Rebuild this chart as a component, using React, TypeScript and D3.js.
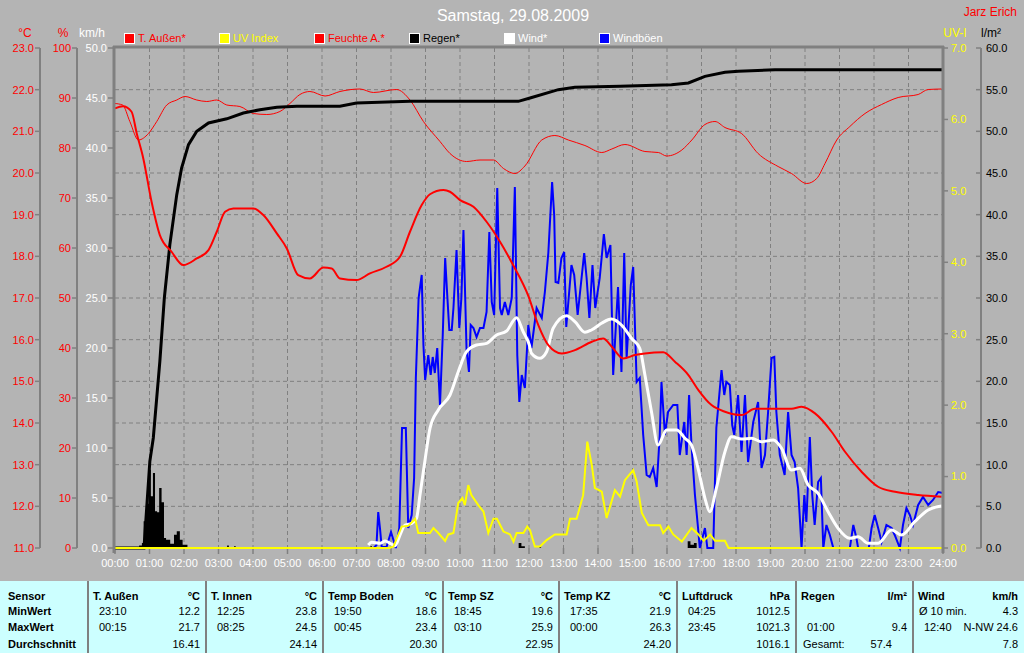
import React from "react";
import * as d3 from "d3";

type P = [number, number];

// ---------- tick labels / categories ----------
const timeLabels = ["00:00","01:00","02:00","03:00","04:00","05:00","06:00","07:00","08:00","09:00","10:00","11:00","12:00","13:00","14:00","15:00","16:00","17:00","18:00","19:00","20:00","21:00","22:00","23:00","24:00"];
const tempTicks = [23, 22, 21, 20, 19, 18, 17, 16, 15, 14, 13, 12, 11];
const humTicks = [100, 90, 80, 70, 60, 50, 40, 30, 20, 10, 0];
const windTicks = [50, 45, 40, 35, 30, 25, 20, 15, 10, 5, 0];
const uvTicks = [7, 6, 5, 4, 3, 2, 1, 0];
const rainTicks = [60, 55, 50, 45, 40, 35, 30, 25, 20, 15, 10, 5, 0];

const legendLabels = ["T. Außen*", "UV Index", "Feuchte A.*", "Regen*", "Wind*", "Windböen"];
const legendFills = ["#ff0000", "#ffff00", "#ff0000", "#000000", "#ffffff", "#0000ff"];
const legendTextColors = ["#ff0000", "#ffff00", "#ff0000", "#000000", "#ffffff", "#ffffff"];

// ---------- series (hour, value) ----------
const tempAussen: P[] = [[0,21.55],[0.23,21.6],[0.48,21.47],[0.63,20.95],[0.82,20.35],[1.06,19.31],[1.3,18.51],[1.64,18.11],[1.98,17.79],[2.37,17.95],[2.71,18.15],[2.95,18.59],[3.19,19.07],[3.43,19.15],[4.01,19.15],[4.3,18.99],[4.69,18.55],[4.98,18.19],[5.31,17.55],[5.65,17.47],[6.04,17.73],[6.28,17.71],[6.52,17.47],[7.0,17.43],[7.39,17.59],[7.87,17.75],[8.26,17.99],[8.55,18.59],[8.89,19.23],[9.13,19.49],[9.52,19.59],[9.71,19.55],[10.0,19.35],[10.39,19.19],[10.77,18.83],[11.16,18.35],[11.54,17.79],[11.98,17.05],[12.27,16.35],[12.56,15.87],[12.95,15.67],[13.33,15.75],[13.82,15.95],[14.15,16.03],[14.4,15.83],[14.73,15.55],[15.07,15.63],[15.36,15.67],[15.89,15.7],[16.23,15.47],[16.62,15.15],[16.91,14.79],[17.29,14.43],[17.68,14.27],[18.16,14.19],[18.55,14.34],[19.03,14.34],[19.61,14.34],[19.9,14.39],[20.29,14.23],[20.77,13.79],[21.16,13.31],[21.64,12.83],[22.12,12.47],[22.61,12.35],[23.28,12.27],[23.96,12.23]];

const feuchte: P[] = [[0,88.9],[0.22,88.6],[0.43,85.3],[0.68,81.6],[0.97,82.9],[1.21,85.3],[1.5,88.6],[1.79,89.6],[2.03,90.3],[2.37,89.6],[2.66,89.3],[2.95,89.6],[3.24,88.6],[3.62,88.3],[4.01,86.9],[4.4,86.7],[4.78,87.3],[5.07,88.9],[5.36,90.7],[5.65,91.3],[6.09,90.4],[6.52,91.3],[7.1,91.8],[7.49,91.1],[8.16,91.7],[8.55,89.6],[8.94,85.3],[9.42,81.3],[9.71,78.9],[10.19,77.3],[10.58,77.6],[10.97,77.6],[11.26,75.9],[11.59,74.9],[11.88,76.4],[12.37,81.6],[12.75,82.5],[13.14,81.6],[13.62,80.5],[14.11,79.1],[14.4,79.8],[14.78,80.7],[15.36,79.3],[15.75,79.1],[15.99,78.4],[16.43,79.6],[16.72,81.6],[17.1,84.7],[17.39,85.3],[17.68,84.1],[18.16,82.9],[18.64,78.9],[19.22,76.3],[19.61,74.9],[20.05,72.9],[20.34,73.9],[20.58,76.9],[20.92,81.6],[21.3,84.3],[21.74,86.9],[22.22,88.7],[22.7,90.1],[23.28,90.7],[23.57,91.7],[23.96,91.8]];

const regenSumme: P[] = [[0,0],[0.84,0],[1.01,10.4],[1.11,13.2],[1.3,22.4],[1.43,30.0],[1.59,36.4],[1.79,42.4],[1.93,45.6],[2.13,48.4],[2.37,50.0],[2.71,51.0],[3.24,51.5],[3.72,52.2],[4.2,52.6],[4.69,52.9],[5.27,53.0],[6.52,53.0],[7.0,53.4],[8.55,53.6],[11.69,53.6],[12.03,54.0],[12.85,55.0],[13.33,55.3],[14.64,55.4],[16.13,55.6],[16.62,55.8],[17.1,56.6],[17.68,57.1],[18.07,57.2],[19.13,57.4],[24,57.4]];

const regenMenge: P[] = [[0.7,0.3],[0.78,0.6],[0.83,3.2],[0.9,5.3],[0.97,9.4],[1.04,6.2],[1.1,9.0],[1.16,4.4],[1.22,4.3],[1.28,7.2],[1.35,5.5],[1.42,1.2],[1.48,1.0],[1.6,0.5],[1.71,1.6],[1.79,2.0],[1.88,1.0],[1.96,0.4],[2.1,0],[3.25,0.3],[3.3,0],[3.45,0.2],[3.5,0],[7.4,0.2],[7.45,0],[11.7,0.6],[11.78,0.2],[11.88,0],[12.3,0.2],[12.35,0],[16.6,0.8],[16.68,0.4],[16.78,0.6],[16.86,0]];

const uvIndex: P[] = [[0,0],[7.95,0],[8.07,0.02],[8.31,0.3],[8.5,0.31],[8.7,0.41],[8.79,0.21],[9.13,0.21],[9.23,0.28],[9.37,0.21],[9.57,0.1],[9.66,0.19],[9.81,0.21],[9.95,0.63],[10.07,0.7],[10.14,0.6],[10.24,0.88],[10.33,0.74],[10.53,0.6],[10.68,0.51],[10.82,0.21],[10.97,0.41],[11.07,0.41],[11.26,0.23],[11.45,0.19],[11.55,0.09],[11.64,0.21],[11.84,0.21],[11.95,0.3],[12.03,0.25],[12.17,0.02],[12.32,0.02],[12.51,0.11],[12.75,0.19],[13.09,0.19],[13.19,0.41],[13.38,0.41],[13.57,0.74],[13.69,1.49],[13.82,1.16],[13.91,0.84],[14.11,0.79],[14.25,0.42],[14.49,0.81],[14.64,0.72],[14.78,0.95],[15.02,1.09],[15.12,0.93],[15.27,0.49],[15.46,0.32],[15.8,0.32],[15.89,0.21],[16.04,0.3],[16.18,0.19],[16.43,0.09],[16.71,0.28],[16.91,0.19],[17.06,0.1],[17.25,0.19],[17.39,0.1],[17.68,0.1],[17.78,0],[24,0]];

const wind: P[] = [[7.34,0.3],[7.44,0.57],[7.68,0.47],[7.83,0.7],[7.97,0.47],[8.12,0.23],[8.26,1.3],[8.41,2.3],[8.6,2.47],[8.74,2.97],[8.84,5.3],[8.98,8.63],[9.13,11.97],[9.37,13.8],[9.71,15.3],[9.95,17.63],[10.19,19.63],[10.48,20.3],[10.77,20.47],[11.06,21.3],[11.35,21.7],[11.64,23.03],[11.83,21.63],[12.01,20.3],[12.07,19.47],[12.31,18.97],[12.51,19.63],[12.7,21.97],[13.09,23.23],[13.33,22.63],[13.62,21.57],[13.81,21.8],[14.1,22.47],[14.39,22.9],[14.68,22.3],[14.97,20.97],[15.21,19.97],[15.36,17.3],[15.55,13.63],[15.74,10.3],[15.99,11.8],[16.28,11.8],[16.52,10.97],[16.71,10.3],[16.9,7.97],[17.1,4.97],[17.24,3.63],[17.43,5.97],[17.68,9.63],[17.87,11.13],[18.16,10.9],[18.45,10.97],[18.74,10.63],[19.08,10.8],[19.32,9.97],[19.61,7.8],[19.85,7.97],[20.09,6.3],[20.38,5.47],[20.67,3.63],[20.96,1.97],[21.3,0.97],[21.54,1.13],[21.83,0.47],[22.12,0.47],[22.51,1.8],[22.8,1.3],[23.18,2.63],[23.57,3.8],[23.96,4.2]];

const windBoeen: P[] = [[7.5,0],[7.58,0.3],[7.63,3.6],[7.68,2],[7.73,0.1],[7.87,0.1],[8.0,1.6],[8.07,0.8],[8.14,0],[8.24,2],[8.32,12],[8.43,12],[8.5,2],[8.6,3.3],[8.67,7],[8.72,17],[8.8,25],[8.89,27.3],[8.94,20.3],[8.99,16.8],[9.08,19.3],[9.15,17.3],[9.21,19.1],[9.27,17.5],[9.34,20],[9.42,14.3],[9.5,21.3],[9.57,29],[9.63,25.3],[9.69,21.8],[9.76,21.8],[9.81,24],[9.9,29.8],[9.98,22],[10.04,25],[10.1,31.8],[10.19,19.8],[10.26,17.6],[10.31,22.3],[10.39,22],[10.48,21.1],[10.58,22],[10.68,22],[10.77,23.6],[10.85,31.6],[10.92,24.6],[10.99,23.3],[11.08,36],[11.16,24],[11.21,23.3],[11.3,24.6],[11.4,23.3],[11.5,25],[11.59,36.1],[11.66,19.3],[11.72,14.6],[11.79,17.3],[11.88,16],[11.98,22.3],[12.07,20],[12.22,24],[12.37,23],[12.46,25.6],[12.56,29.5],[12.67,36.6],[12.73,33.3],[12.77,26.6],[12.85,26.5],[12.94,29],[13.02,29.6],[13.08,22.1],[13.23,28.3],[13.31,27.3],[13.41,23.3],[13.6,29.5],[13.67,27],[13.75,23],[13.84,28.3],[13.92,24],[14.05,27],[14.17,31.4],[14.25,29],[14.36,30.3],[14.44,17.3],[14.58,26.1],[14.68,17.6],[14.76,29.5],[14.83,19],[14.95,26.3],[15.02,28.1],[15.12,16.6],[15.21,17],[15.31,11.3],[15.41,7.3],[15.5,7.1],[15.6,8],[15.7,6.1],[15.79,11.3],[15.84,16.6],[15.94,11.3],[16.03,13.6],[16.18,14.3],[16.3,14.3],[16.37,9.3],[16.5,12.6],[16.57,9.3],[16.64,15.3],[16.71,10.3],[16.81,5.3],[16.9,2],[16.95,0],[17.1,2],[17.17,0],[17.34,0],[17.43,12],[17.58,17.8],[17.66,15.3],[17.72,16.6],[17.82,16.3],[17.89,12.3],[17.95,11.3],[18.06,15.3],[18.16,9.6],[18.26,15.3],[18.35,8.6],[18.5,12.6],[18.64,14.6],[18.74,8],[18.84,9.3],[18.93,13.6],[19.03,19],[19.11,19.1],[19.17,13.6],[19.27,9.3],[19.41,7.3],[19.51,13.6],[19.61,9.3],[19.7,8.6],[19.8,6],[19.9,0],[19.98,5.3],[20.04,2.6],[20.14,11.1],[20.21,5.3],[20.28,2.3],[20.38,6.6],[20.46,7],[20.53,0],[20.62,2.3],[20.72,1.3],[20.82,0],[21.3,0],[21.4,2.3],[21.49,1],[21.54,0],[21.85,0],[21.93,2],[22.02,3.3],[22.12,2],[22.22,0.6],[22.36,2.3],[22.51,2],[22.6,1.3],[22.75,0],[22.84,2.3],[22.94,4],[23.04,3.3],[23.13,2.3],[23.28,4.3],[23.42,5.1],[23.57,4.3],[23.71,4.8],[23.86,5.6],[24,5.5]];

// ---------- table ----------
const rowLabels = ["Sensor", "MinWert", "MaxWert", "Durchschnitt"];
const sensorNames = ["T. Außen", "T. Innen", "Temp Boden", "Temp SZ", "Temp KZ", "Luftdruck", "Regen", "Wind"];
const sensorUnits = ["°C", "°C", "°C", "°C", "°C", "hPa", "l/m²", "km/h"];
const minTimes = ["23:10", "12:25", "19:50", "18:45", "17:35", "04:25", "", "Ø 10 min."];
const minValues = ["12.2", "23.8", "18.6", "19.6", "21.9", "1012.5", "", "4.3"];
const maxTimes = ["00:15", "08:25", "00:45", "03:10", "00:00", "23:45", "01:00", "12:40"];
const maxValues = ["21.7", "24.5", "23.4", "25.9", "26.3", "1021.3", "9.4", "N-NW 24.6"];
const avgLabels = ["", "", "", "", "", "", "Gesamt:", ""];
const avgValues = ["16.41", "24.14", "20.30", "22.95", "24.20", "1016.1", "57.4", "7.8"];
const colEdges = [88, 206, 323, 443, 559, 677, 796, 913, 1024];

const FONT = "'Liberation Sans', Arial, Helvetica, sans-serif";
const BG = "#b4b4b4";
const AX = "#808080";
const W = 1024, H = 653;
const L = 115, R = 943, T = 48, B = 548;

export default function App() {
  const x = d3.scaleLinear().domain([0, 24]).range([L, R]);
  const yT = d3.scaleLinear().domain([11, 23]).range([B, T]);
  const yHum = d3.scaleLinear().domain([0, 100]).range([B, T]);
  const yW = d3.scaleLinear().domain([0, 50]).range([B, T]);
  const yUV = d3.scaleLinear().domain([0, 7]).range([B, T]);
  const yR = d3.scaleLinear().domain([0, 60]).range([B, T]);

  const mk = (ys: d3.ScaleLinear<number, number>, curve: d3.CurveFactory) =>
    d3.line<P>().x((d) => x(d[0])).y((d) => ys(d[1])).curve(curve);

  const tempPath = mk(yT, d3.curveMonotoneX)(tempAussen) || "";
  const humPath = mk(yHum, d3.curveMonotoneX)(feuchte) || "";
  const rainPath = mk(yR, d3.curveLinear)(regenSumme) || "";
  const uvPath = mk(yUV, d3.curveLinear)(uvIndex) || "";
  const windPath = mk(yW, d3.curveMonotoneX)(wind) || "";
  const gustPath = mk(yW, d3.curveLinear)(windBoeen) || "";
  const rainBars =
    d3.area<P>().x((d) => x(d[0])).y0(B).y1((d) => yR(d[1])).curve(d3.curveStepAfter)(regenMenge) || "";

  const hours = d3.range(0, 25);
  const legendX = d3.scaleLinear().domain([0, 1]).range([124, 219]);

  const fs = 11;

  return (
    <svg
      width={W}
      height={H}
      style={{ position: "absolute", left: 0, top: 0, display: "block" }}
      fontFamily={FONT}
    >
      <rect x={0} y={0} width={W} height={H} fill={BG} />

      {/* title */}
      <text x={513} y={21} fontSize={16} fill="#ffffff" textAnchor="middle">Samstag, 29.08.2009</text>
      <text x={1017} y={16} fontSize={12} fill="#ff0000" textAnchor="end">Jarz Erich</text>

      {/* unit labels */}
      <text x={25} y={37} fontSize={12} fill="#ff0000" textAnchor="middle">°C</text>
      <text x={63} y={37} fontSize={12} fill="#ff0000" textAnchor="middle">%</text>
      <text x={92} y={37} fontSize={12} fill="#ffffff" textAnchor="middle">km/h</text>
      <text x={955} y={37} fontSize={12} fill="#ffff00" textAnchor="middle">UV-I</text>
      <text x={991} y={37} fontSize={12} fill="#000000" textAnchor="middle">l/m²</text>

      {/* legend */}
      {legendLabels.map((lab, i) => (
        <g key={lab}>
          <rect x={legendX(i) + 0.5} y={33.5} width={10} height={10} fill={legendFills[i]} stroke="#ffffff" strokeWidth={1} />
          <text x={legendX(i) + 14} y={42} fontSize={fs} fill={legendTextColors[i]}>{lab}</text>
        </g>
      ))}

      {/* grid */}
      {tempTicks.slice(1, -1).map((t) => (
        <line key={"hg" + t} x1={L} x2={R} y1={yT(t)} y2={yT(t)} stroke={AX} strokeWidth={1} strokeDasharray="4,3" />
      ))}
      {hours.slice(1, -1).map((h) => (
        <line key={"vg" + h} x1={x(h)} x2={x(h)} y1={T} y2={B} stroke={AX} strokeWidth={1} strokeDasharray="4,3" />
      ))}

      {/* left axes */}
      <line x1={40} x2={40} y1={T} y2={B} stroke={AX} strokeWidth={2} />
      {tempTicks.map((t) => (
        <g key={"tt" + t}>
          <line x1={35} x2={40} y1={yT(t)} y2={yT(t)} stroke={AX} strokeWidth={1.5} />
          <text x={34} y={yT(t)} dy="0.35em" fontSize={fs} fill="#ff0000" textAnchor="end">{t.toFixed(1)}</text>
        </g>
      ))}
      <line x1={77} x2={77} y1={T} y2={B} stroke={AX} strokeWidth={2} />
      {humTicks.map((t) => (
        <g key={"ht" + t}>
          <line x1={72} x2={77} y1={yHum(t)} y2={yHum(t)} stroke={AX} strokeWidth={1.5} />
          <text x={71} y={yHum(t)} dy="0.35em" fontSize={fs} fill="#ff0000" textAnchor="end">{t}</text>
        </g>
      ))}
      {windTicks.map((t) => (
        <g key={"wt" + t}>
          <line x1={108} x2={114} y1={yW(t)} y2={yW(t)} stroke={AX} strokeWidth={1.5} />
          <text x={107} y={yW(t)} dy="0.35em" fontSize={fs} fill="#ffffff" textAnchor="end">{t.toFixed(1)}</text>
        </g>
      ))}

      {/* right axes */}
      {uvTicks.map((t) => (
        <g key={"ut" + t}>
          <line x1={943} x2={948} y1={yUV(t)} y2={yUV(t)} stroke={AX} strokeWidth={1.5} />
          <text x={951} y={yUV(t)} dy="0.35em" fontSize={fs} fill="#ffff00">{t.toFixed(1)}</text>
        </g>
      ))}
      <line x1={981} x2={981} y1={T} y2={B} stroke={AX} strokeWidth={2} />
      {rainTicks.map((t) => (
        <g key={"rt" + t}>
          <line x1={976} x2={981} y1={yR(t)} y2={yR(t)} stroke={AX} strokeWidth={1.5} />
          <text x={986} y={yR(t)} dy="0.35em" fontSize={fs} fill="#000000">{t.toFixed(1)}</text>
        </g>
      ))}

      {/* x axis */}
      {hours.map((h) => (
        <g key={"xt" + h}>
          <line x1={x(h)} x2={x(h)} y1={B} y2={B + 6} stroke={AX} strokeWidth={1.5} />
          <text x={x(h)} y={567} fontSize={fs} fill="#ffffff" textAnchor="middle">{timeLabels[h]}</text>
        </g>
      ))}

      {/* data */}
      <path d={rainBars} fill="#000000" stroke="none" />
      <path d={humPath} fill="none" stroke="#ff0000" strokeWidth={1} />
      <path d={rainPath} fill="none" stroke="#000000" strokeWidth={3} />
      <path d={gustPath} fill="none" stroke="#0000ff" strokeWidth={2} />
      <path d={windPath} fill="none" stroke="#ffffff" strokeWidth={3} />
      <path d={uvPath} fill="none" stroke="#ffff00" strokeWidth={2} />
      <path d={tempPath} fill="none" stroke="#ff0000" strokeWidth={2} />

      {/* plot frame */}
      <line x1={L - 1} x2={L - 1} y1={T - 2} y2={B + 5} stroke={AX} strokeWidth={3} />
      <line x1={R} x2={R} y1={T - 2} y2={B + 5} stroke={AX} strokeWidth={3} />
      <line x1={L - 2} x2={R + 1} y1={T - 1} y2={T - 1} stroke={AX} strokeWidth={3} />

      {/* table */}
      <rect x={0} y={581} width={W} height={H - 581} fill="#ccffff" />
      {colEdges.slice(0, -1).map((e) => (
        <line key={"ce" + e} x1={e} x2={e} y1={581} y2={H} stroke={AX} strokeWidth={2} />
      ))}
      {rowLabels.map((lab, i) => (
        <text key={lab} x={8} y={[600, 615, 631, 648][i]} fontSize={fs} fontWeight="bold" fill="#000000">{lab}</text>
      ))}
      {sensorNames.map((n, i) => {
        const a = colEdges[i];
        const b = colEdges[i + 1];
        const rx = b - 6;
        return (
          <g key={n}>
            <text x={a + 5} y={600} fontSize={fs} fontWeight="bold" fill="#000000">{n}</text>
            <text x={rx} y={600} fontSize={fs} fontWeight="bold" fill="#000000" textAnchor="end">{sensorUnits[i]}</text>
            <text x={a + (i === 7 ? 6 : 11)} y={615} fontSize={fs} fill="#000000">{minTimes[i]}</text>
            <text x={rx} y={615} fontSize={fs} fill="#000000" textAnchor="end">{minValues[i]}</text>
            <text x={a + 11} y={631} fontSize={fs} fill="#000000">{maxTimes[i]}</text>
            <text x={rx} y={631} fontSize={fs} fill="#000000" textAnchor="end">{maxValues[i]}</text>
            <text x={a + 7} y={648} fontSize={fs} fill="#000000">{avgLabels[i]}</text>
            <text x={avgLabels[i] ? rx - 15 : rx} y={648} fontSize={fs} fill="#000000" textAnchor="end">{avgValues[i]}</text>
          </g>
        );
      })}
    </svg>
  );
}
